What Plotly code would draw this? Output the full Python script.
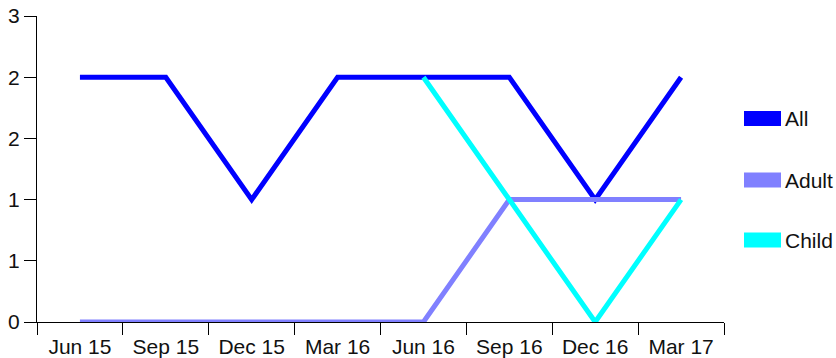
import plotly.graph_objects as go

categories = ["Jun 15", "Sep 15", "Dec 15", "Mar 16", "Jun 16", "Sep 16", "Dec 16", "Mar 17"]
all_values = [2, 2, 1, 2, 2, 2, 1, 2]
adult_values = [0, 0, 0, 0, 0, 1, 1, 1]
child_values = [None, None, None, None, 2, 1, 0, 1]
series_names = ["All", "Adult", "Child"]
series_colors = ["#0000ff", "#8080ff", "#00ffff"]
y_tickvals = [0, 0.5, 1, 1.5, 2, 2.5]
y_ticktext = ["0", "1", "1", "2", "2", "3"]

W, H = 836, 358
L, T = 37, 16
PW, PH = 687, 306
R = W - L - PW
B = H - T - PH
FONT = dict(family="Liberation Sans, Arial, sans-serif", size=21, color="#111")

fig = go.Figure()
for name, vals, col in zip(series_names, [all_values, adult_values, child_values], series_colors):
    fig.add_trace(go.Scatter(x=categories, y=vals, name=name, mode="lines",
                             line=dict(color=col, width=5), cliponaxis=False,
                             showlegend=False, connectgaps=False))

# legend drawn as shapes + annotations (pixel positions from the reference)
def px_x(px):
    return (px - L) / PW

def px_y(py):
    return (T + PH - py) / PH

legend_y = [118.5, 180, 240]
for name, col, py in zip(series_names, series_colors, legend_y):
    yc = px_y(py)
    fig.add_shape(type="rect", xref="paper", yref="paper",
                  x0=px_x(744), x1=px_x(781),
                  y0=yc - 7.5 / PH, y1=yc + 7.5 / PH,
                  fillcolor=col, line=dict(width=0))
    fig.add_annotation(xref="paper", yref="paper", x=px_x(783), y=yc,
                       text=name, showarrow=False, xanchor="left", yanchor="middle",
                       font=FONT)

fig.update_layout(
    width=W, height=H,
    margin=dict(l=L, r=R, t=T, b=B, pad=0, autoexpand=False),
    paper_bgcolor="white", plot_bgcolor="white",
    font=FONT,
    showlegend=False,
)
fig.update_xaxes(type="category", range=[-0.5, 7.5], tickson="boundaries",
                 showline=True, linecolor="black", linewidth=1,
                 ticks="outside", ticklen=12, tickcolor="black", tickwidth=1,
                 showgrid=False, zeroline=False, layer="below traces",
                 tickfont=FONT, ticklabelstandoff=6, automargin=False)
fig.update_yaxes(range=[0, 2.5], tickvals=y_tickvals, ticktext=y_ticktext,
                 showline=True, linecolor="black", linewidth=1,
                 ticks="outside", ticklen=12, tickcolor="black", tickwidth=1,
                 showgrid=False, zeroline=False, layer="below traces",
                 tickfont=FONT, ticklabelstandoff=0, automargin=False)

fig.write_html("out.html", config={"displayModeBar": False},
               post_script="document.body.style.margin='0';document.body.style.overflow='hidden';")
